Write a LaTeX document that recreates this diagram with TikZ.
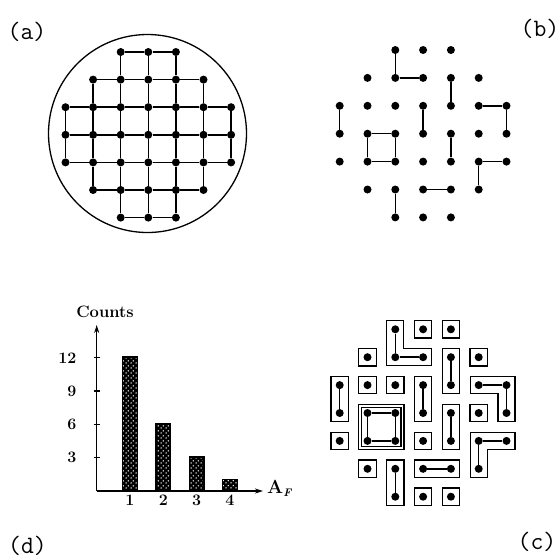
\documentclass[tikz,border=0pt]{standalone}
\usepackage{fontspec}
\usepackage{tikz}
\usetikzlibrary{positioning,fit,patterns.meta,arrows.meta}

% white holes on a black bar
\tikzdeclarepattern{
  name=holes,
  type=uncolored,
  bottom left={(0pt,0pt)},
  top right={(5pt,5pt)},
  tile size={(5pt,5pt)},
  code={
    \fill (1.25pt,1.25pt) circle [radius=0.85pt];
    \fill (3.75pt,3.75pt) circle [radius=0.85pt];
  }
}

\begin{document}
\begin{tikzpicture}[x=1pt, y=-1pt,
    site/.style={circle,fill=black,inner sep=0pt,minimum size=8pt},
    bond/.style={line width=1.5pt},
    cbox/.style={draw,line width=1.3pt,inner sep=4.5pt},
    cline/.style={line width=1.3pt},
    bar/.style={draw,line width=1.4pt,minimum width=14.6pt,inner sep=0pt,anchor=south,
        preaction={fill=black},pattern=holes,pattern color=white},
    axis/.style={line width=1.3pt},
    tag/.style={font=\fontsize{25}{28}\selectfont\ttfamily},
    num/.style={font=\fontsize{16}{18}\selectfont\bfseries}]
\useasboundingbox (0,0) rectangle (559,558);
\def\m{8.5pt}

% lattice sites of (a), (b) and (c)
\foreach \r/\s/\e in {0/2/4,1/1/5,2/0/6,3/0/6,4/0/6,5/1/5,6/2/4} {
    \foreach \c in {\s,...,\e} {
        \node[site] (a-\c-\r) at (65.5+27.6*\c, 52+27.6*\r) {};
        \node[site] (b-\c-\r) at (339.7+27.8*\c, 50+27.9*\r) {};
        \node[site] (c-\c-\r) at (339.7+27.8*\c, 329.3+27.9*\r) {};
    }
}

% (a) full lattice inside the circle
\node[draw,circle,line width=1.3pt,minimum size=198pt] (rim) at (147.5,133.5) {};
\foreach \r/\s/\e in {0/2/3,1/1/4,2/0/5,3/0/5,4/0/5,5/1/4,6/2/3} {
    \foreach \c in {\s,...,\e} {
        \pgfmathtruncatemacro\n{\c+1}
        \draw[bond] (a-\c-\r) -- (a-\n-\r);
    }
}
\foreach \r/\s/\e in {0/2/4,1/1/5,2/0/6,3/0/6,4/1/5,5/2/4} {
    \foreach \c in {\s,...,\e} {
        \pgfmathtruncatemacro\n{\r+1}
        \draw[bond] (a-\c-\r) -- (a-\c-\n);
    }
}

% (b) and (c) occupied bonds
\foreach \p/\q in {2-0/2-1,2-1/3-1,4-1/4-2,0-2/0-3,3-2/3-3,5-2/6-2,6-2/6-3,
                   1-3/2-3,1-3/1-4,2-3/2-4,1-4/2-4,4-3/4-4,5-4/6-4,5-4/5-5,
                   2-5/2-6,3-5/4-5} {
    \draw[bond] (b-\p) -- (b-\q);
    \draw[bond] (c-\p) -- (c-\q);
}

% (c) cluster outlines
\foreach \p in {3-0,4-0,1-1,5-1,1-2,2-2,5-3,0-4,3-4,1-5,3-6,4-6}
    \node[cbox,fit=(c-\p)] (box-\p) {};
\foreach \p/\q in {4-1/4-2,0-2/0-3,3-2/3-3,4-3/4-4,2-5/2-6,3-5/4-5}
    \node[cbox,fit=(c-\p)(c-\q)] (box-\p) {};
\node[cbox,fit=(c-1-3)(c-2-4)] (box-sq) {};
\node[cbox,inner sep=1.5pt,fit=(c-1-3)(c-2-4)] (box-sq-in) {};
\draw[cline] ([xshift=-\m,yshift=\m]c-2-0.center) -- ([xshift=\m,yshift=\m]c-2-0.center)
    -- ([xshift=\m,yshift=\m]c-2-1.center) -- ([xshift=\m,yshift=\m]c-3-1.center)
    -- ([xshift=\m,yshift=-\m]c-3-1.center) -- ([xshift=-\m,yshift=-\m]c-2-1.center) -- cycle;
\draw[cline] ([xshift=-\m,yshift=\m]c-5-2.center) -- ([xshift=\m,yshift=\m]c-6-2.center)
    -- ([xshift=\m,yshift=-\m]c-6-3.center) -- ([xshift=-\m,yshift=-\m]c-6-3.center)
    -- ([xshift=-\m,yshift=-\m]c-6-2.center) -- ([xshift=-\m,yshift=-\m]c-5-2.center) -- cycle;
\draw[cline] ([xshift=-\m,yshift=\m]c-5-4.center) -- ([xshift=\m,yshift=\m]c-6-4.center)
    -- ([xshift=\m,yshift=-\m]c-6-4.center) -- ([xshift=\m,yshift=-\m]c-5-4.center)
    -- ([xshift=\m,yshift=-\m]c-5-5.center) -- ([xshift=-\m,yshift=-\m]c-5-5.center) -- cycle;

% (d) histogram of cluster sizes
\coordinate (O) at (96.7,491);
\coordinate (ytip) at (96.7,325);
\coordinate (xtip) at (263,491);
\foreach \i/\h in {1/12,2/6,3/3,4/1}
    \node[bar,minimum height=\h*11.1pt] (bar\i) at (96.7+33.3*\i,491) {};
\draw[axis,-{Stealth[length=8pt,width=5pt]}] (O) -- (ytip);
\draw[axis,-{Stealth[length=8pt,width=5pt]}] (O) -- (xtip);
\foreach \v in {3,6,9,12} {
    \draw[axis] (93.5,491-11.1*\v) -- (99.5,491-11.1*\v);
    \node[num,anchor=east] (tick\v) at (80,491-11.1*\v) {\v};
}
\foreach \i in {1,...,4}
    \node[num] (lab\i) at (96.7+33.3*\i,500) {\i};
\node[font=\fontsize{16.5}{18}\selectfont\bfseries] (counts) at (105,312) {Counts};
\node[anchor=west,inner sep=0pt,font=\fontsize{19}{20}\selectfont\bfseries] (area) at (267,488)
    {A\raisebox{-3pt}{\fontsize{11}{12}\selectfont\itshape F}};

% panel tags
\node[tag] (ta) at (27,31.5) {(a)};
\node[tag] (tb) at (540,29) {(b)};
\node[tag] (tc) at (537,542) {(c)};
\node[tag] (td) at (27.5,546) {(d)};
\end{tikzpicture}
\end{document}
